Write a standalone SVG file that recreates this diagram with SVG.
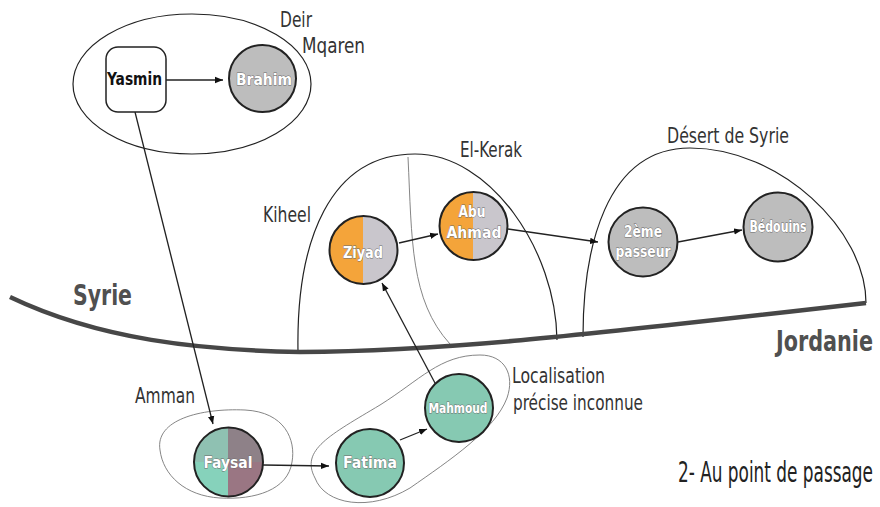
<svg xmlns="http://www.w3.org/2000/svg" width="880" height="507" viewBox="0 0 880 507">
<defs>
<style>
text{font-family:"DejaVu Sans Condensed","Liberation Sans Narrow","Open Sans",sans-serif}
.lbl{font-size:22px;fill:#333}
.big{font-size:28px;font-weight:bold;fill:#505050}
.nt{font-size:16px;font-weight:bold;fill:#fff;stroke:#6a6a6a;stroke-width:0.8;paint-order:stroke;text-anchor:middle}
.node{stroke:#222;stroke-width:2}
.zone{fill:none;stroke:#222;stroke-width:1.2}
.zone2{fill:none;stroke:#777;stroke-width:0.9}
.edge{fill:none;stroke:#222;stroke-width:1.3;marker-end:url(#arr)}
</style>
<marker id="arr" viewBox="0 0 10 10" refX="10" refY="5" markerWidth="8" markerHeight="8" orient="auto" markerUnits="userSpaceOnUse">
<path d="M0,1 L10,5 L0,9 z" fill="#111"/>
</marker>
<clipPath id="cZiyad"><rect x="320" y="205" width="43" height="90"/></clipPath>
<clipPath id="cAbu"><rect x="430" y="185" width="43" height="90"/></clipPath>
<clipPath id="cFtl"><rect x="190" y="420" width="38" height="42"/></clipPath>
<clipPath id="cFbl"><rect x="190" y="462" width="38" height="42"/></clipPath>
<clipPath id="cFtr"><rect x="228" y="420" width="40" height="42"/></clipPath>
</defs>
<rect width="880" height="507" fill="#fff"/>

<g id="zones">
<ellipse class="zone" cx="192" cy="84" rx="119" ry="70"/>
<path class="zone" d="M298 352 C296 240 330 154 415 154 C490 154 556 250 557 340"/>
<path class="zone2" d="M408 157 C412 240 410 300 450 344"/>
<path class="zone" d="M583 337 C583 250 605 148 690 148 C780 148 866 230 866 303"/>
<path class="zone2" d="M160 450 C155 420 200 408 245 410 C285 412 296 440 292 462 C288 490 255 500 220 498 C185 496 163 475 160 450 Z"/>
<path class="zone2" d="M315 478 C300 450 330 435 380 405 C420 380 440 355 480 355 C505 355 515 375 507 398 C495 430 450 460 410 488 C370 512 325 505 315 478 Z"/>
</g>

<path id="border" d="M10 297 C100 340 200 350 300 352 C440 351 560 338 866 303" fill="none" stroke="#474747" stroke-width="4.5"/>

<g id="labels">
<text class="lbl" x="280" y="27" textLength="32" lengthAdjust="spacingAndGlyphs">Deir</text>
<text class="lbl" x="302" y="53" textLength="63" lengthAdjust="spacingAndGlyphs">Mqaren</text>
<text class="lbl" x="263" y="222" textLength="48" lengthAdjust="spacingAndGlyphs">Kiheel</text>
<text class="lbl" x="460" y="157" textLength="62" lengthAdjust="spacingAndGlyphs">El-Kerak</text>
<text class="lbl" x="667" y="143" textLength="122" lengthAdjust="spacingAndGlyphs">Désert de Syrie</text>
<text class="lbl" x="135" y="403" textLength="60" lengthAdjust="spacingAndGlyphs">Amman</text>
<text class="lbl" x="512" y="383" textLength="93" lengthAdjust="spacingAndGlyphs">Localisation</text>
<text class="lbl" x="513" y="410" textLength="130" lengthAdjust="spacingAndGlyphs">précise inconnue</text>
<text class="big" x="73" y="305" textLength="59" lengthAdjust="spacingAndGlyphs">Syrie</text>
<text transform="translate(776 351) scale(1 1.4)" x="0" y="0" textLength="97" lengthAdjust="spacingAndGlyphs" style="font-size:20px;font-weight:bold;fill:#505050">Jordanie</text>
<text transform="translate(678 482) scale(1 1.65)" x="0" y="0" textLength="195" lengthAdjust="spacingAndGlyphs" style="font-size:17px;fill:#222">2- Au point de passage</text>
</g>

<g id="connectors">
<path class="edge" d="M166 80 L223 80"/>
<path class="edge" d="M135 112 L213 424"/>
<path class="edge" d="M399 243 L438 234"/>
<path class="edge" d="M508 229 L598 242"/>
<path class="edge" d="M678 242 L742 230"/>
<path class="edge" d="M263 465 L329 466"/>
<path class="edge" d="M400 440 L427 429"/>
<path class="edge" d="M435 383 L382 283"/>
</g>

<g id="Yasmin">
<rect x="106" y="47" width="60" height="65" rx="12" fill="#fff" stroke="#222" stroke-width="1.5"/>
<text x="107" y="85" textLength="55" lengthAdjust="spacingAndGlyphs" style="font-size:18px;font-weight:bold;fill:#111">Yasmin</text>
</g>
<g id="Brahim">
<circle class="node" cx="262.5" cy="78.5" r="33.5" fill="#bdbdbd"/>
<text class="nt" x="264" y="85" textLength="56" lengthAdjust="spacingAndGlyphs">Brahim</text>
</g>
<g id="Ziyad">
<circle cx="363.5" cy="250" r="34" fill="#c9c6cc"/>
<circle cx="363.5" cy="250" r="34" fill="#f4a43a" clip-path="url(#cZiyad)"/>
<circle class="node" cx="363.5" cy="250" r="34" fill="none"/>
<text class="nt" x="363" y="258" textLength="40" lengthAdjust="spacingAndGlyphs">Ziyad</text>
</g>
<g id="AbuAhmad">
<circle cx="473.5" cy="226" r="34" fill="#c9c6cc"/>
<circle cx="473.5" cy="226" r="34" fill="#f4a43a" clip-path="url(#cAbu)"/>
<circle class="node" cx="473.5" cy="226" r="34" fill="none"/>
<text class="nt" x="472" y="217" textLength="27" lengthAdjust="spacingAndGlyphs">Abu</text>
<text class="nt" x="474" y="238" textLength="55" lengthAdjust="spacingAndGlyphs">Ahmad</text>
</g>
<g id="Passeur2">
<circle class="node" cx="643" cy="242" r="34.5" fill="#bdbdbd"/>
<text class="nt" x="643" y="237" textLength="38" lengthAdjust="spacingAndGlyphs">2ème</text>
<text class="nt" x="643" y="257" textLength="55" lengthAdjust="spacingAndGlyphs">passeur</text>
</g>
<g id="Bedouins">
<circle class="node" cx="778" cy="227" r="34.5" fill="#bdbdbd"/>
<text class="nt" x="778" y="232" textLength="57" lengthAdjust="spacingAndGlyphs" style="font-size:15px">Bédouins</text>
</g>
<g id="Faysal">
<circle cx="228.5" cy="462" r="34.5" fill="#9a7683"/>
<circle cx="228.5" cy="462" r="34.5" fill="#8e8188" clip-path="url(#cFtr)"/>
<circle cx="228.5" cy="462" r="34.5" fill="#8fc1b2" clip-path="url(#cFtl)"/>
<circle cx="228.5" cy="462" r="34.5" fill="#86d2bb" clip-path="url(#cFbl)"/>
<circle class="node" cx="228.5" cy="462" r="34.5" fill="none"/>
<text class="nt" x="228" y="468" textLength="49" lengthAdjust="spacingAndGlyphs">Faysal</text>
</g>
<g id="Fatima">
<circle class="node" cx="370" cy="463" r="34" fill="#86c9b2"/>
<text class="nt" x="370" y="468" textLength="54" lengthAdjust="spacingAndGlyphs">Fatima</text>
</g>
<g id="Mahmoud">
<circle class="node" cx="459" cy="408" r="34" fill="#86c9b2"/>
<text class="nt" x="458" y="413" textLength="59" lengthAdjust="spacingAndGlyphs" style="font-size:14px">Mahmoud</text>
</g>
</svg>
